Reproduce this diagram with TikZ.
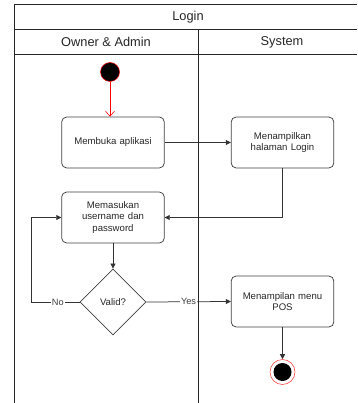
\documentclass[tikz,border=0pt]{standalone}
\usepackage{fontspec}
\setmainfont{Liberation Sans}
\usetikzlibrary{shapes.geometric,arrows.meta}

\begin{document}
\begin{tikzpicture}[
	x=1pt,y=-1pt,
	line width=0.75pt,
	lane/.style={font=\fontsize{12.8}{14}\selectfont,text=black!85},
	action/.style={rectangle,rounded corners=5pt,draw=black!75,minimum width=100pt,minimum height=51pt,align=center,text width=96pt,text=black!85,font=\fontsize{9.6}{11.8}\selectfont},
	decision/.style={diamond,aspect=1,draw=black!75,minimum width=66pt,minimum height=66pt,inner sep=0pt,text=black!85,font=\fontsize{9.6}{11}\selectfont},
	start/.style={circle,fill=black,draw=red,line width=0.5pt,minimum size=19pt,inner sep=0pt},
	final/.style={circle,fill=white,draw=red!70,line width=0.6pt,minimum size=25pt,inner sep=0pt,
		path picture={\fill[black] (path picture bounding box.center) circle (9pt);}},
	flow/.style={draw=black!80,-{Triangle[length=5pt,width=5pt]}},
	lbl/.style={fill=white,inner sep=1pt,font=\fontsize{9.2}{10}\selectfont,text=black!75}
]
	\useasboundingbox (0,0) rectangle (357,403);
	% swimlane frame
	\draw[black!85] (357,4) -- (14,4) -- (14,403);
	\draw[black!85] (14,29) -- (357,29);
	\draw[black!85] (14,54) -- (357,54);
	\draw[black!85] (198,29) -- (198,403);
	\node[lane] (title) at (188,17) {Login};
	\node[lane] (owner) at (106,42) {Owner \& Admin};
	\node[lane] (system) at (282,42) {System};

	\node[start] (init) at (110,72) {};
	\node[action] (buka) at (113,142.5) {Membuka aplikasi};
	\node[action] (tampil) at (282.5,142.5) {Menampilkan\\halaman Login};
	\node[action] (masuk) at (113,217.5) {Memasukan\\username dan\\password};
	\node[decision] (valid) at (113,302) {Valid?};
	\node[action] (menu) at (282.5,301.5) {Menampilan menu\\POS};
	\node[final] (akhir) at (282.5,372) {};
	\coordinate (belok) at (31,302);

	\draw[red,line width=0.6pt,-{Straight Barb[length=5pt,width=9pt]}] (init) -- (init |- buka.north);
	\draw[flow] (buka) -- (tampil);
	\draw[flow] (tampil.south) |- (masuk.east);
	\draw[flow] (masuk) -- (valid);
	\draw[flow] (valid.west) -- node[lbl,pos=0.45] {No} (belok) |- (masuk.west);
	\draw[flow] (valid.east) -- node[lbl] {Yes} (menu.west);
	\draw[flow] (menu) -- (akhir);
\end{tikzpicture}
\end{document}
